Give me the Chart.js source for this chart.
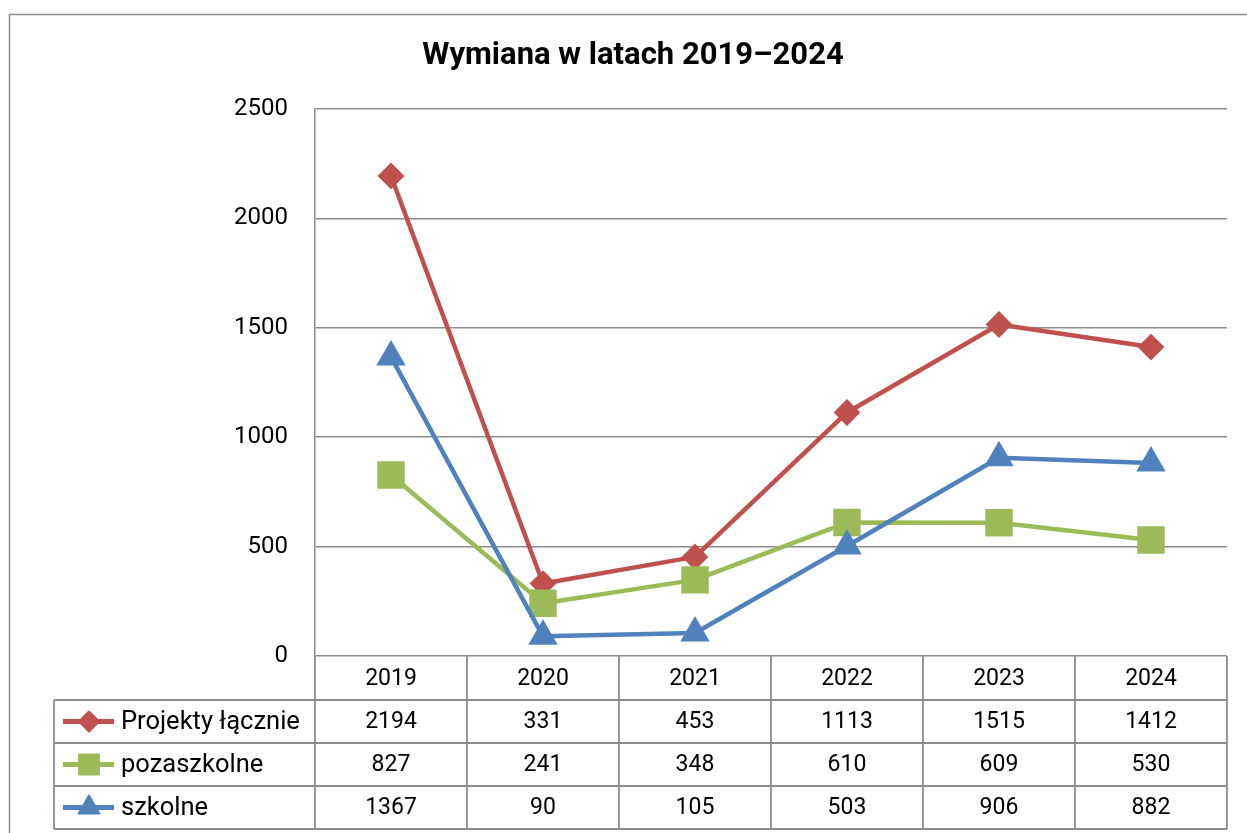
<!DOCTYPE html>
<html>
<head>
<meta charset="utf-8">
<script src="https://cdn.jsdelivr.net/npm/chart.js@4/dist/chart.umd.min.js"></script>
<style>
  html, body { margin: 0; padding: 0; background: #fff; }
  #wrap { width: 1247px; height: 833px; position: relative; }
</style>
</head>
<body>
<div id="wrap"><canvas id="c" width="1247" height="833"></canvas></div>
<script>
const title = 'Wymiana w latach 2019–2024';
const years = ['2019', '2020', '2021', '2022', '2023', '2024'];
const seriesNames = ['Projekty łącznie', 'pozaszkolne', 'szkolne'];
const projektyLacznie = [2194, 331, 453, 1113, 1515, 1412];
const pozaszkolne = [827, 241, 348, 610, 609, 530];
const szkolne = [1367, 90, 105, 503, 906, 882];
const yTicks = [0, 500, 1000, 1500, 2000, 2500];

const colors = ['#C0504D', '#9BBB59', '#4F81BD'];
const styles = ['rectRot', 'rect', 'triangle'];
const radii = [12, 18, 15];
const keyRadii = [10, 14, 12];
const GRID = '#8c8c8c';
const FONT = 'Roboto, "DejaVu Sans", sans-serif';

const allSeries = [projektyLacznie, pozaszkolne, szkolne];

function drawMarker(ctx, style, r, x, y, color) {
  ctx.save();
  ctx.fillStyle = color;
  ctx.strokeStyle = color;
  ctx.lineJoin = 'round';
  ctx.lineWidth = 2;
  ctx.beginPath();
  if (style === 'rectRot') {
    ctx.moveTo(x - r, y); ctx.lineTo(x, y - r); ctx.lineTo(x + r, y); ctx.lineTo(x, y + r);
  } else if (style === 'rect') {
    const s = Math.SQRT1_2 * r;
    ctx.rect(x - s, y - s, 2 * s, 2 * s);
  } else {
    const h = r;
    ctx.moveTo(x, y - h);
    ctx.lineTo(x + Math.sin(2 * Math.PI / 3) * h, y - Math.cos(2 * Math.PI / 3) * h);
    ctx.lineTo(x + Math.sin(4 * Math.PI / 3) * h, y - Math.cos(4 * Math.PI / 3) * h);
  }
  ctx.closePath();
  ctx.fill();
  ctx.stroke();
  ctx.restore();
}

const tablePlugin = {
  id: 'tablePlugin',
  afterDraw(chart) {
    const ctx = chart.ctx;
    const xs = chart.scales.x;
    const ys = chart.scales.y;
    ctx.save();
    // outer frame
    ctx.strokeStyle = GRID;
    ctx.lineWidth = 1.5;
    ctx.strokeRect(9.5, 14.5, 1400, 1000);

    // title
    ctx.fillStyle = '#000';
    ctx.font = 'bold 31px ' + FONT;
    ctx.textAlign = 'center';
    ctx.textBaseline = 'middle';
    ctx.fillText(title, 633, 56);

    const top = ys.getPixelForValue(0);
    const headerH = 44;
    const rowH = 43;
    const tableLeft = 54;
    const rowTops = [top + headerH, top + headerH + rowH, top + headerH + 2 * rowH, top + headerH + 3 * rowH];
    const bounds = [];
    for (let i = 0; i <= years.length; i++) bounds.push(xs.getPixelForValue(i - 0.5));

    ctx.strokeStyle = GRID;
    ctx.lineWidth = 1.8;
    ctx.beginPath();
    rowTops.forEach(ry => { ctx.moveTo(tableLeft, ry); ctx.lineTo(bounds[bounds.length - 1], ry); });
    ctx.moveTo(tableLeft, rowTops[0]); ctx.lineTo(tableLeft, rowTops[3]);
    bounds.forEach(bx => { ctx.moveTo(bx, top); ctx.lineTo(bx, rowTops[3]); });
    ctx.stroke();

    // header
    ctx.fillStyle = '#000';
    ctx.font = '23px ' + FONT;
    ctx.textAlign = 'center';
    ctx.textBaseline = 'middle';
    years.forEach((yr, i) => ctx.fillText(yr, xs.getPixelForValue(i), top + headerH / 2 + 1));

    // rows
    allSeries.forEach((vals, s) => {
      const cy = rowTops[s] + rowH / 2 + 1;
      ctx.strokeStyle = colors[s];
      ctx.lineWidth = 5;
      ctx.beginPath();
      ctx.moveTo(63, cy - 1); ctx.lineTo(114, cy - 1);
      ctx.stroke();
      drawMarker(ctx, styles[s], keyRadii[s], 89, cy - 1, colors[s]);
      ctx.fillStyle = '#000';
      ctx.textAlign = 'left';
      ctx.font = '25.5px ' + FONT;
      ctx.fillText(seriesNames[s], 121, cy);
      ctx.textAlign = 'center';
      ctx.font = '23px ' + FONT;
      vals.forEach((v, i) => ctx.fillText(String(v), xs.getPixelForValue(i), cy));
    });
    ctx.restore();
  }
};

new Chart(document.getElementById('c'), {
  type: 'line',
  data: {
    labels: years,
    datasets: allSeries.map((vals, s) => ({
      label: seriesNames[s],
      data: vals,
      borderColor: colors[s],
      backgroundColor: colors[s],
      borderWidth: 4.5,
      pointStyle: styles[s],
      pointRadius: radii[s],
      pointHoverRadius: radii[s],
      pointBorderWidth: 2,
      pointBorderColor: colors[s],
      pointBackgroundColor: colors[s],
      tension: 0,
      order: 3 - s
    }))
  },
  options: {
    responsive: false,
    animation: false,
    layout: { padding: { top: 109, right: 20, bottom: 177, left: 0 } },
    plugins: {
      legend: { display: false },
      title: { display: false },
      tooltip: { enabled: false }
    },
    elements: { line: { borderJoinStyle: 'round', borderCapStyle: 'round' } },
    scales: {
      x: {
        type: 'category',
        display: false,
        offset: true
      },
      y: {
        min: 0,
        max: 2500,
        afterBuildTicks(scale) { scale.ticks = yTicks.map(v => ({ value: v })); },
        afterFit(scale) { scale.width = 315; },
        grid: { color: GRID, lineWidth: 1.5, drawTicks: false },
        border: { display: true, color: GRID, width: 1.5 },
        ticks: {
          color: '#000',
          padding: 27,
          font: { family: FONT, size: 24 },
          callback: (v) => String(v)
        }
      }
    }
  },
  plugins: [tablePlugin]
});
</script>
</body>
</html>
